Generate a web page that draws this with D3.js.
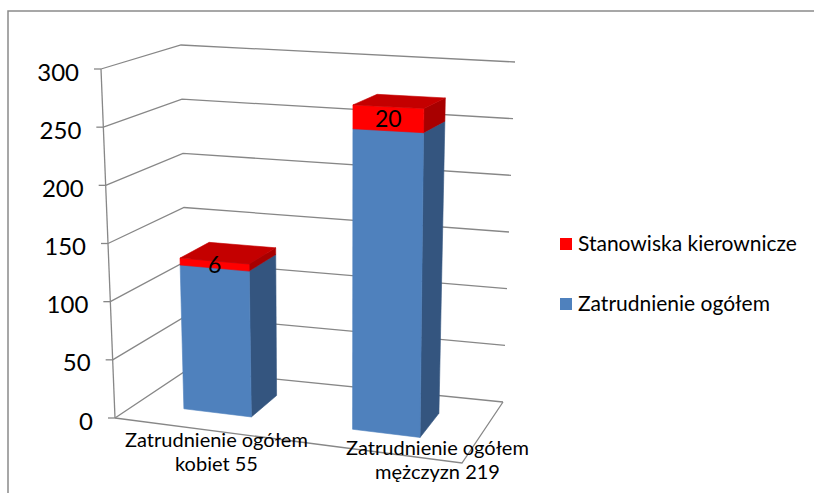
<!DOCTYPE html>
<html>
<head>
<meta charset="utf-8">
<script src="https://cdn.jsdelivr.net/npm/d3@7"></script>
<style>
  html, body { margin: 0; padding: 0; background: #ffffff; }
  svg { display: block; font-family: Lato, "Noto Sans", sans-serif; }
</style>
</head>
<body>
<svg id="chart" width="814" height="493"></svg>
<script>
// ---- data ----
const categories = ["Zatrudnienie ogółem kobiet 55", "Zatrudnienie ogółem mężczyzn 219"];
const categoryLines = [["Zatrudnienie ogółem", "kobiet 55"], ["Zatrudnienie ogółem", "mężczyzn 219"]];
const totalEmployment = [125, 252];   // Zatrudnienie ogółem
const managerialPosts = [6, 20];      // Stanowiska kierownicze
const valueTicks = [0, 50, 100, 150, 200, 250, 300];
const seriesKeys = ["total", "managers"];
const seriesNames = ["Zatrudnienie ogółem", "Stanowiska kierownicze"];

// ---- styles ----
const faceColors = {
  total:    { front: "#4f81bd", side: "#34557f", top: "#3f6ea7" },
  managers: { front: "#ff0000", side: "#a80000", top: "#c40000" }
};
const gridColor = "#878787";

// ---- 3D frame: screen corners of the plot box (front/back, bottom/top, left/right) ----
const box = {
  fbl: [115, 418], ftl: [101, 69], bbl: [187, 370], btl: [181, 45],
  fbr: [462, 463], ftr: [467, 84], bbr: [503, 402], btr: [515, 62]
};
const lerp = (a, b, u) => [a[0] + (b[0] - a[0]) * u, a[1] + (b[1] - a[1]) * u];
// t: across categories (0..1), h: height (0..1), d: depth (0 front .. 1 back)
function proj(t, h, d) {
  const bl = lerp(box.fbl, box.bbl, d), br = lerp(box.fbr, box.bbr, d);
  const tl = lerp(box.ftl, box.btl, d), tr = lerp(box.ftr, box.btr, d);
  return lerp(lerp(bl, br, t), lerp(tl, tr, t), h);
}

// ---- scales ----
const y = d3.scaleLinear().domain([0, 300]).range([0, 1]);
const x = d3.scaleBand().domain(categories).range([0, 1])
  .paddingInner(0.6).paddingOuter(0.3).align(0.46);
const depth = [0.31, 0.72];

const rows = categories.map((c, i) => ({ cat: c, total: totalEmployment[i], managers: managerialPosts[i] }));
const stacked = d3.stack().keys(seriesKeys)(rows);

const svg = d3.select("#chart");
const line = d3.line();

// chart area border (left and top edges)
svg.append("path")
  .attr("d", "M8,493V11H814")
  .attr("fill", "none").attr("stroke", "#8a8a8a").attr("stroke-width", 1.5);

// ---- walls: gridlines on left wall and back wall ----
const grid = svg.append("g").attr("fill", "none").attr("stroke", gridColor).attr("stroke-width", 1.3);
valueTicks.forEach(v => {
  const h = y(v);
  grid.append("path").attr("d", line([proj(0, h, 0), proj(0, h, 1), proj(1, h, 1)]));
});
// floor: right and front edges
grid.append("path").attr("d", line([proj(1, 0, 1), proj(1, 0, 0), proj(0, 0, 0)]));
// value axis on the front-left edge
grid.append("path").attr("d", line([proj(0, 0, 0), proj(0, 1, 0)]));
valueTicks.forEach(v => {
  const p = proj(0, y(v), 0);
  grid.append("path").attr("d", line([[p[0] - 7, p[1]], p]));
});

// value tick labels
svg.append("g").selectAll("text").data(valueTicks).join("text")
  .attr("x", v => proj(0, y(v), 0)[0] - 22)
  .attr("y", v => proj(0, y(v), 0)[1] + 3)
  .attr("dy", "0.36em")
  .attr("text-anchor", "end")
  .attr("font-size", 24)
  .attr("fill", "#000")
  .text(d => d);

// ---- bars ----
function faces(t0, t1, h0, h1, d0, d1) {
  return {
    side:  [proj(t1, h0, d0), proj(t1, h0, d1), proj(t1, h1, d1), proj(t1, h1, d0)],
    front: [proj(t0, h0, d0), proj(t1, h0, d0), proj(t1, h1, d0), proj(t0, h1, d0)],
    top:   [proj(t0, h1, d0), proj(t1, h1, d0), proj(t1, h1, d1), proj(t0, h1, d1)]
  };
}
const bars = svg.append("g");
categories.forEach((c, i) => {
  const t0 = x(c), t1 = x(c) + x.bandwidth();
  stacked.forEach(series => {
    const seg = series[i];
    const f = faces(t0, t1, y(seg[0]), y(seg[1]), depth[0], depth[1]);
    const col = faceColors[series.key];
    ["side", "front", "top"].forEach(k => {
      bars.append("path")
        .attr("d", line(f[k]) + "Z")
        .attr("fill", col[k]).attr("stroke", col[k]).attr("stroke-width", 0.6)
        .attr("stroke-linejoin", "round");
    });
  });
});

// data labels on the managerial segment
const mgr = stacked[1];
svg.append("g").selectAll("text").data(categories).join("text")
  .attr("x", (c, i) => proj(x(c) + x.bandwidth() / 2, y((mgr[i][0] + mgr[i][1]) / 2), depth[0])[0])
  .attr("y", (c, i) => proj(x(c) + x.bandwidth() / 2, y((mgr[i][0] + mgr[i][1]) / 2), depth[0])[1])
  .attr("dy", "0.36em")
  .attr("text-anchor", "middle")
  .attr("font-size", 23)
  .attr("fill", "#000")
  .text((c, i) => managerialPosts[i]);

// ---- category labels ----
const labelX = d3.scaleBand().domain(categories).range([106, 548]);
const labelY = d3.scaleLinear().domain([0, 1]).range([447, 455]);
const catG = svg.append("g").attr("font-size", 20).attr("fill", "#000").attr("text-anchor", "middle");
categories.forEach((c, i) => {
  const cx = labelX(c) + labelX.bandwidth() / 2;
  const t = catG.append("text").attr("x", cx).attr("y", labelY(i));
  categoryLines[i].forEach((s, j) => {
    t.append("tspan").attr("x", cx).attr("dy", j === 0 ? 0 : 24).text(s);
  });
});

// ---- legend ----
const legendItems = [
  { key: "managers", name: seriesNames[1] },
  { key: "total", name: seriesNames[0] }
];
const legend = svg.append("g").attr("transform", "translate(560,238)");
legendItems.forEach((d, i) => {
  const g = legend.append("g").attr("transform", `translate(0,${i * 60})`);
  g.append("rect").attr("width", 12).attr("height", 12).attr("fill", faceColors[d.key].front);
  g.append("text").attr("x", 18).attr("y", 13).attr("font-size", 21).attr("fill", "#000").text(d.name);
});
</script>
</body>
</html>
